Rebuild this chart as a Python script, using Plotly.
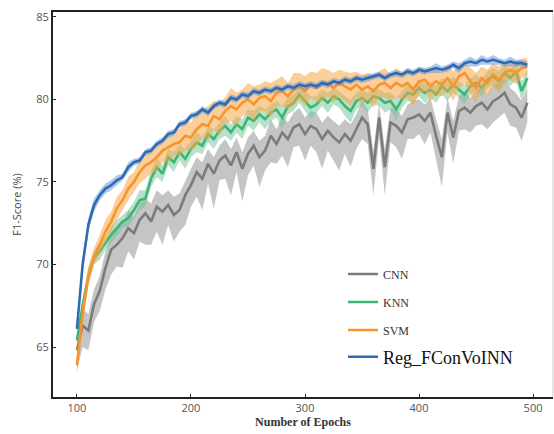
import plotly.graph_objects as go

epochs = list(range(100, 500, 5))

cnn = [64.8, 66.3, 66.0, 67.6, 68.4, 69.8, 70.9, 71.2, 71.6, 72.2,
       71.9, 72.7, 73.1, 72.6, 73.5, 73.2, 73.6, 73.0, 73.3, 74.2,
       74.8, 75.6, 75.2, 76.1, 75.5, 76.3, 76.6, 76.0, 76.8, 75.8,
       76.7, 77.2, 76.5, 76.9, 77.8, 77.3, 78.0, 77.6, 78.3, 78.5,
       77.9, 78.4, 78.2, 77.6, 78.1, 77.7, 77.4, 77.9, 77.5, 78.2,
       78.9, 78.5, 75.8, 78.9, 75.9, 78.6, 78.4, 78.0, 78.8, 78.9,
       79.1, 78.7, 79.2, 77.8, 76.5, 79.2, 77.7, 79.3, 79.5, 79.2,
       79.6, 79.8, 79.4, 79.9, 80.1, 80.4, 79.7, 79.5, 78.9, 79.8]
cnn_low = [1.2, 1.3, 1.2, 1.1, 1.2, 1.3, 1.5, 1.3, 1.8, 1.4,
           1.6, 1.3, 1.9, 1.4, 1.5, 2.0, 1.2, 1.6, 1.3, 1.8,
           1.3, 1.5, 1.9, 1.2, 2.1, 1.2, 1.4, 1.8, 1.2, 2.0,
           1.3, 1.2, 1.8, 1.2, 1.6, 1.2, 1.4, 1.7, 1.2, 1.3,
           1.6, 1.2, 1.4, 1.8, 1.2, 1.4, 1.7, 1.2, 1.6, 1.2,
           1.3, 1.2, 1.6, 1.2, 1.7, 1.2, 1.3, 1.6, 1.2, 1.3,
           1.2, 1.4, 1.2, 1.5, 1.8, 1.2, 1.6, 1.2, 1.3, 1.2,
           1.2, 1.3, 1.2, 1.3, 1.2, 1.2, 1.3, 1.2, 1.4, 1.2]
cnn_high = [0.9, 1.0, 1.0, 0.9, 0.9, 1.0, 0.9, 1.0, 0.9, 1.1,
            1.0, 1.0, 0.9, 1.1, 1.0, 1.0, 0.9, 1.1, 1.0, 0.9,
            1.0, 0.9, 1.0, 0.9, 1.0, 0.9, 1.0, 1.0, 0.9, 1.0,
            1.0, 0.9, 1.0, 0.9, 1.0, 0.9, 1.0, 1.0, 0.9, 1.0,
            1.0, 0.9, 1.0, 1.0, 0.9, 1.0, 1.0, 0.9, 1.0, 0.9,
            1.0, 0.9, 1.1, 0.9, 1.1, 0.9, 1.0, 1.0, 0.9, 1.0,
            0.9, 1.0, 0.9, 1.0, 1.1, 0.9, 1.0, 0.9, 1.0, 0.9,
            0.9, 1.0, 0.9, 1.0, 0.9, 0.9, 1.0, 0.9, 1.0, 0.9]

knn = [65.4, 67.5, 69.3, 70.4, 70.8, 71.3, 71.8, 72.2, 72.6, 72.8,
       73.3, 73.9, 74.0, 75.2, 75.9, 75.5, 76.5, 76.2, 76.8, 76.4,
       77.0, 77.4, 77.2, 77.9, 77.6, 78.1, 78.4, 78.0, 78.5, 78.2,
       78.9, 78.7, 79.1, 78.8, 79.2, 79.4, 78.9, 79.6, 79.8, 80.3,
       79.9, 79.5, 79.7, 80.1, 79.8, 80.2, 80.0, 79.6, 79.3, 79.9,
       80.1, 79.8, 80.2, 80.1, 79.8, 79.9, 79.4, 80.0, 80.4, 80.3,
       80.7, 80.4, 80.6, 80.3, 80.8, 80.5, 80.9, 80.6, 80.3, 80.8,
       81.0, 80.7, 81.2, 81.4, 81.1, 81.6, 81.3, 81.7, 80.5, 81.3]
knn_low = [0.4, 0.5, 0.5, 0.4, 0.5, 0.4, 0.5, 0.5, 0.4, 0.5,
           0.5, 0.6, 0.5, 0.5, 0.6, 0.5, 0.5, 0.6, 0.5, 0.6,
           0.5, 0.6, 0.5, 0.5, 0.6, 0.5, 0.6, 0.5, 0.5, 0.6,
           0.5, 0.6, 0.5, 0.6, 0.5, 0.5, 0.7, 0.5, 0.5, 0.5,
           0.6, 0.7, 0.5, 0.5, 0.6, 0.5, 0.5, 0.6, 0.7, 0.5,
           0.5, 0.6, 0.5, 0.5, 0.6, 0.5, 0.7, 0.5, 0.5, 0.5,
           0.5, 0.6, 0.5, 0.5, 0.5, 0.6, 0.5, 0.5, 0.6, 0.5,
           0.5, 0.5, 0.5, 0.5, 0.6, 0.5, 0.5, 0.5, 0.6, 0.5]
knn_high = knn_low

svm = [63.9, 67.0, 69.3, 70.5, 71.2, 72.0, 72.6, 73.4, 73.9, 74.6,
       75.0, 75.6, 76.0, 76.2, 76.5, 76.9, 77.1, 77.3, 77.4, 77.8,
       77.7, 78.2, 78.5, 78.4, 79.0, 78.8, 79.3, 79.6, 79.4, 79.8,
       80.0, 79.7, 80.1, 80.2, 79.9, 80.4, 80.5, 80.2, 80.6, 80.8,
       80.5, 80.9, 80.7, 80.9, 81.0, 80.7, 81.0, 80.8, 80.6, 80.9,
       80.6, 80.8, 80.5, 80.9, 81.0, 80.7, 81.0, 80.8, 81.0, 80.6,
       81.1, 81.2, 80.8, 81.1, 80.9, 81.3, 80.8, 81.4, 81.6, 81.1,
       80.7, 81.3, 81.0, 81.5, 81.2, 81.6, 81.8, 81.6, 81.9, 82.0]
svm_low = [0.5, 0.6, 0.6, 0.5, 0.6, 0.7, 0.6, 0.7, 0.6, 0.7,
           0.6, 0.7, 0.8, 0.7, 0.8, 0.7, 0.9, 0.7, 0.8, 0.9,
           0.8, 1.0, 0.8, 0.9, 0.8, 1.0, 0.8, 0.9, 1.0, 0.8,
           0.9, 1.0, 0.8, 0.9, 1.0, 0.8, 0.9, 0.8, 1.0, 0.8,
           0.9, 0.8, 0.9, 1.0, 0.8, 0.9, 0.8, 0.9, 1.0, 0.8,
           0.9, 0.8, 1.0, 0.8, 0.9, 0.8, 0.9, 0.8, 0.9, 1.0,
           0.8, 0.7, 0.9, 0.8, 0.7, 0.8, 0.9, 0.7, 0.6, 0.8,
           0.9, 0.7, 0.8, 0.7, 0.8, 0.6, 0.6, 0.7, 0.6, 0.5]
svm_high = [0.5, 0.6, 0.6, 0.5, 0.6, 0.7, 0.6, 0.7, 0.6, 0.7,
            0.6, 0.7, 0.8, 0.7, 0.8, 0.7, 0.9, 0.8, 0.8, 1.0,
            0.9, 1.1, 0.8, 1.2, 0.9, 1.0, 0.8, 1.1, 1.0, 0.8,
            1.0, 1.1, 0.8, 0.9, 1.1, 0.8, 0.9, 0.8, 1.0, 0.8,
            0.9, 0.8, 0.9, 1.0, 0.8, 0.9, 0.8, 0.9, 1.0, 0.8,
            0.9, 0.8, 1.0, 0.8, 0.9, 0.8, 0.9, 0.8, 0.9, 1.0,
            0.8, 0.7, 0.9, 0.8, 0.7, 0.8, 0.9, 0.7, 0.6, 0.8,
            0.9, 0.7, 0.8, 0.7, 0.8, 0.6, 0.6, 0.7, 0.6, 0.5]

reg = [66.1, 70.0, 72.4, 73.6, 74.2, 74.6, 74.8, 75.1, 75.3, 75.9,
       76.2, 76.3, 76.8, 76.9, 77.3, 77.5, 77.9, 78.0, 78.5, 78.6,
       79.0, 79.1, 79.4, 79.2, 79.6, 79.8, 79.7, 80.1, 80.0, 80.3,
       80.2, 80.5, 80.4, 80.6, 80.5, 80.7, 80.6, 80.8, 80.7, 80.9,
       80.8, 80.9, 80.8, 81.0, 80.9, 81.1, 81.0, 81.2, 81.1, 81.3,
       81.2, 81.3, 81.4, 81.5, 81.3, 81.5, 81.6, 81.5, 81.7, 81.6,
       81.8, 81.7, 81.8, 81.9, 81.8, 81.9, 82.1, 81.9, 82.2, 82.3,
       82.2, 82.4, 82.3, 82.4, 82.3, 82.2, 82.3, 82.2, 82.2, 82.1]
reg_low = [0.2, 0.4, 0.4, 0.4, 0.3, 0.3, 0.3, 0.3, 0.2, 0.3,
           0.2, 0.2, 0.2, 0.2, 0.2, 0.2, 0.2, 0.2, 0.2, 0.2,
           0.2, 0.2, 0.2, 0.2, 0.2, 0.2, 0.2, 0.2, 0.2, 0.2,
           0.2, 0.2, 0.2, 0.2, 0.2, 0.2, 0.2, 0.2, 0.2, 0.2,
           0.2, 0.2, 0.2, 0.2, 0.2, 0.2, 0.2, 0.2, 0.2, 0.2,
           0.2, 0.2, 0.2, 0.2, 0.2, 0.2, 0.2, 0.2, 0.2, 0.2,
           0.2, 0.2, 0.2, 0.3, 0.2, 0.2, 0.2, 0.3, 0.2, 0.3,
           0.2, 0.3, 0.2, 0.3, 0.2, 0.2, 0.3, 0.2, 0.2, 0.2]
reg_high = reg_low

series_names = ["CNN", "KNN", "SVM", "Reg_FConVoINN"]
series_values = [cnn, knn, svm, reg]
series_lows = [cnn_low, knn_low, svm_low, reg_low]
series_highs = [cnn_high, knn_high, svm_high, reg_high]
line_colors = ["#7b7b7b", "#3fb574", "#f7952c", "#2e6bb3"]
band_colors = ["rgba(150,150,150,0.55)", "rgba(110,195,150,0.5)",
               "rgba(250,165,70,0.55)", "rgba(90,145,215,0.5)"]
legend_ids = ["legend", "legend2", "legend3", "legend4"]

fig = go.Figure()
for name, vals, lo, hi, lc, bc, lg in zip(series_names, series_values, series_lows,
                                          series_highs, line_colors, band_colors, legend_ids):
    upper = [v + s for v, s in zip(vals, hi)]
    lower = [v - s for v, s in zip(vals, lo)]
    fig.add_trace(go.Scatter(
        x=epochs + epochs[::-1], y=upper + lower[::-1],
        fill="toself", fillcolor=bc, line=dict(width=0),
        hoverinfo="skip", showlegend=False, mode="lines"))
    fig.add_trace(go.Scatter(
        x=epochs, y=vals, mode="lines", name=name,
        line=dict(color=lc, width=2.6), legend=lg))

W, H = 554, 434
ml, mr, mt, mb = 53, 1, 12, 37
pw, ph = W - ml - mr, H - mt - mb

def lx(px):
    return (px - ml) / pw

def ly(py):
    return (H - mb - py) / ph

small_font = dict(family="Liberation Serif, Times New Roman, serif", size=12, color="#333333")
big_font = dict(family="Liberation Serif, Times New Roman, serif", size=18, color="#111111")
leg_common = dict(xanchor="left", yanchor="middle", bgcolor="rgba(0,0,0,0)",
                  borderwidth=0, itemwidth=30)

fig.update_layout(
    width=W, height=H,
    margin=dict(l=ml, r=mr, t=mt, b=mb),
    paper_bgcolor="white", plot_bgcolor="white",
    legend=dict(x=lx(343), y=ly(274), font=small_font, **leg_common),
    legend2=dict(x=lx(343), y=ly(302), font=small_font, **leg_common),
    legend3=dict(x=lx(343), y=ly(330), font=small_font, **leg_common),
    legend4=dict(x=lx(343), y=ly(357), font=big_font, **leg_common),
    xaxis=dict(
        range=[79, 517.5], tickvals=[100, 200, 300, 400, 500],
        showgrid=False, zeroline=False,
        showline=True, linecolor="#222222", linewidth=2, mirror=True,
        ticks="inside", ticklen=3, tickcolor="#222222",
        tickfont=dict(family="Open Sans, Liberation Sans, sans-serif", size=11, color="#555555"),
        title=dict(text="<b>Number of Epochs</b>", standoff=3,
                   font=dict(family="Liberation Serif, Times New Roman, serif", size=12, color="#333333")),
    ),
    yaxis=dict(
        range=[61.97, 85.3], tickvals=[65, 70, 75, 80, 85],
        showgrid=False, zeroline=False,
        showline=True, linecolor="#222222", linewidth=2,
        ticks="inside", ticklen=3, tickcolor="#222222",
        tickfont=dict(family="Open Sans, Liberation Sans, sans-serif", size=11, color="#555555"),
        title=dict(text="F1-Score (%)", standoff=12,
                   font=dict(family="Open Sans, Liberation Sans, sans-serif", size=11, color="#444444")),
    ),
)
fig.add_shape(type="line", xref="paper", yref="paper", x0=1, x1=1, y0=0, y1=1,
              line=dict(color="#cccccc", width=1))

fig.write_html("out.html")
